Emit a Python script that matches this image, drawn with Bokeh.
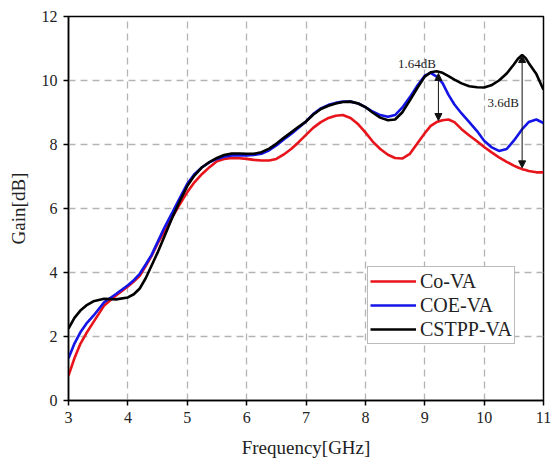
from bokeh.plotting import figure
from bokeh.models import ColumnDataSource, Arrow, NormalHead, Label, Legend, LegendItem, FixedTicker
from bokeh.embed import file_html
from bokeh.resources import INLINE

freq = [3.0, 3.1, 3.2, 3.3, 3.42, 3.6, 3.8, 4.0, 4.1, 4.2, 4.3, 4.4, 4.5, 4.62, 4.75, 4.88,
        5.0, 5.12, 5.25, 5.38, 5.5, 5.62, 5.75, 5.88, 6.0, 6.12, 6.25, 6.38, 6.5, 6.62, 6.75, 6.88,
        7.0, 7.12, 7.25, 7.38, 7.5, 7.62, 7.75, 7.88, 8.0, 8.12, 8.25, 8.38, 8.5, 8.62, 8.75, 8.88,
        9.0, 9.1, 9.2, 9.3, 9.4, 9.5, 9.62, 9.75, 9.88, 10.0, 10.12, 10.25, 10.38, 10.5, 10.57, 10.64,
        10.7, 10.75, 10.88, 11.0]

co_va = [0.78, 1.32, 1.77, 2.10, 2.45, 2.97, 3.28, 3.56, 3.72, 3.90, 4.20, 4.52, 4.90, 5.30, 5.73, 6.15,
         6.51, 6.82, 7.08, 7.30, 7.48, 7.55, 7.58, 7.57, 7.55, 7.52, 7.50, 7.50, 7.55, 7.68, 7.86, 8.08,
         8.30, 8.52, 8.70, 8.83, 8.90, 8.92, 8.83, 8.63, 8.38, 8.10, 7.86, 7.68, 7.58, 7.56, 7.71, 8.05,
         8.35, 8.58, 8.70, 8.76, 8.78, 8.70, 8.48, 8.28, 8.10, 7.92, 7.76, 7.60, 7.46, 7.34, 7.28, 7.23,
         7.20, 7.17, 7.13, 7.13]

coe_va = [1.32, 1.78, 2.13, 2.40, 2.65, 3.07, 3.33, 3.60, 3.76, 3.96, 4.25, 4.55, 4.95, 5.42, 5.88, 6.35,
          6.77, 7.07, 7.29, 7.45, 7.55, 7.62, 7.66, 7.66, 7.66, 7.67, 7.71, 7.82, 7.97, 8.15, 8.33, 8.53,
          8.72, 8.95, 9.13, 9.24, 9.30, 9.34, 9.34, 9.28, 9.17, 9.03, 8.92, 8.87, 8.92, 9.15, 9.48, 9.85,
          10.15, 10.24, 10.12, 9.92, 9.55, 9.25, 8.97, 8.70, 8.42, 8.12, 7.92, 7.80, 7.86, 8.12, 8.30, 8.48,
          8.60, 8.70, 8.78, 8.67]

cstpp_va = [2.25, 2.58, 2.81, 2.97, 3.10, 3.18, 3.16, 3.22, 3.32, 3.50, 3.82, 4.22, 4.62, 5.15, 5.73, 6.25,
            6.70, 7.03, 7.29, 7.46, 7.58, 7.67, 7.72, 7.72, 7.71, 7.71, 7.76, 7.87, 8.02, 8.20, 8.38, 8.56,
            8.72, 8.93, 9.11, 9.21, 9.28, 9.33, 9.34, 9.28, 9.17, 9.00, 8.84, 8.76, 8.78, 9.00, 9.38, 9.78,
            10.12, 10.26, 10.29, 10.24, 10.14, 10.03, 9.91, 9.82, 9.79, 9.78, 9.85, 10.00, 10.22, 10.50, 10.68, 10.80,
            10.70, 10.55, 10.20, 9.71]

series_names = ["Co-VA", "COE-VA", "CSTPP-VA"]
series_colors = ["#e8141c", "#1414e6", "#000000"]

x_ticks = [3, 4, 5, 6, 7, 8, 9, 10, 11]
y_ticks = [0, 2, 4, 6, 8, 10, 12]

# annotations: (x, y_top, y_bottom), label (text, x, y)
arrow_x = [9.23, 10.64]
arrow_top = [10.22, 10.78]
arrow_bottom = [8.75, 7.27]
note_text = ["1.64dB", "3.6dB"]
note_x = [8.87, 10.32]
note_y = [10.53, 9.32]

FONT = "Liberation Serif"

p = figure(width=553, height=463, x_range=(3, 11), y_range=(0, 12),
           output_backend="svg", toolbar_location=None,
           min_border_left=68, min_border_right=10, min_border_top=16, min_border_bottom=63)

src = ColumnDataSource(dict(f=freq, a=co_va, b=coe_va, c=cstpp_va))
renderers = []
for col, color in zip(["a", "b", "c"], series_colors):
    r = p.line("f", col, source=src, line_color=color, line_width=2.6)
    renderers.append(r)

# axes
for ax in (p.xaxis[0], p.yaxis[0]):
    ax.axis_line_color = "black"
    ax.axis_line_width = 1.5
    ax.major_tick_line_color = "black"
    ax.major_tick_line_width = 1.5
    ax.major_tick_out = 5
    ax.major_tick_in = 0
    ax.minor_tick_line_color = None
    ax.major_label_text_font = FONT
    ax.major_label_text_font_size = "16px"
    ax.major_label_text_color = "#222222"
    ax.axis_label_text_font = FONT
    ax.axis_label_text_font_size = "19px"
    ax.axis_label_text_font_style = "normal"
    ax.axis_label_text_color = "#222222"
    ax.major_label_standoff = 6

p.xaxis.ticker = FixedTicker(ticks=x_ticks)
p.yaxis.ticker = FixedTicker(ticks=y_ticks)
p.xaxis.axis_label = "Frequency[GHz]"
p.yaxis.axis_label = "Gain[dB]"
p.xaxis.axis_label_standoff = 11
p.yaxis.axis_label_standoff = 10

p.outline_line_color = "black"
p.outline_line_width = 1.5
p.outline_line_alpha = 1.0

for g in (p.xgrid[0], p.ygrid[0]):
    g.grid_line_color = "#b4b4b4"
    g.grid_line_dash = "7 5"
    g.grid_line_width = 1.3
p.xgrid.ticker = FixedTicker(ticks=x_ticks)
p.ygrid.ticker = FixedTicker(ticks=y_ticks)

for xa, yt, yb in zip(arrow_x, arrow_top, arrow_bottom):
    p.add_layout(Arrow(start=NormalHead(size=7, fill_color="#111111", line_color="#111111"),
                       end=NormalHead(size=7, fill_color="#111111", line_color="#111111"),
                       x_start=xa, y_start=yt, x_end=xa, y_end=yb,
                       line_color="#111111", line_width=1))

for t, tx, ty in zip(note_text, note_x, note_y):
    p.add_layout(Label(x=tx, y=ty, text=t, text_font=FONT, text_font_size="13px",
                       text_align="center", text_baseline="middle", text_color="#222222"))

legend = Legend(items=[LegendItem(label=n, renderers=[r]) for n, r in zip(series_names, renderers)],
                location=(299, 56))
legend.label_text_font = FONT
legend.label_text_font_size = "20px"
legend.label_text_color = "#222222"
legend.glyph_width = 46
legend.glyph_height = 24
legend.label_height = 24
legend.label_standoff = 4
legend.padding = 2
legend.spacing = 0
legend.margin = 0
legend.border_line_color = "#777777"
legend.border_line_width = 1
legend.background_fill_color = "white"
legend.background_fill_alpha = 1.0
p.add_layout(legend)

open("out.html", "w").write(file_html(p, INLINE))
